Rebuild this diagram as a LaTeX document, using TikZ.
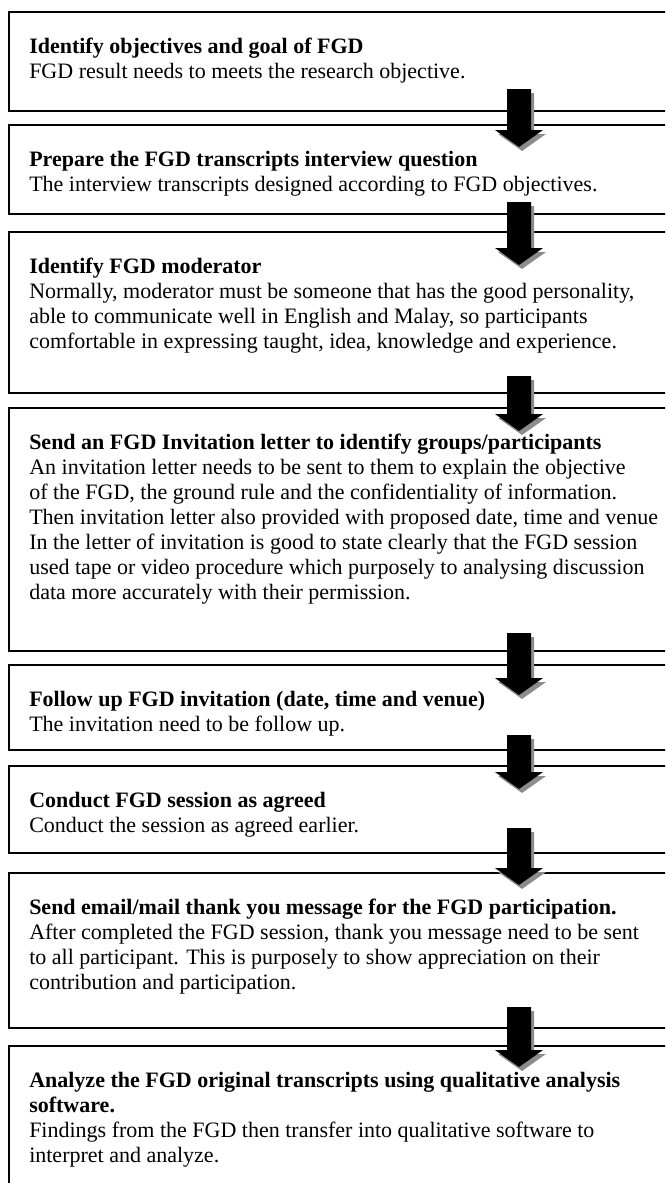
\documentclass[tikz,border=0pt]{standalone}
\usepackage{fontspec}
\setmainfont{Liberation Serif}
\usetikzlibrary{calc}

\definecolor{arrowshadow}{gray}{0.55}

\tikzset{
  stepbox/.style={draw, line width=0.9pt, anchor=north west, minimum width=525pt, inner sep=0pt, outer sep=0pt},
  steptext/.style={anchor=north west, align=left, inner sep=0pt, font=\fontsize{16.5}{18.75}\selectfont}
}

% box: name, top (px), height (px), text
\newcommand{\flowstep}[4]{%
  \node[stepbox, minimum height=#3*0.75pt] (#1) at (9,#2) {};
  \node[steptext] (#1-text) at ($(#1.north west)+(20,23.5)$) {\strut #4};
}
% block arrow: from, to, rise above gap, drop below gap
\newcommand{\flowarrow}[4]{%
  \foreach \dx/\dy/\c in {3/4/arrowshadow, 0/0/black}
    \fill[\c] ($(#1.south west)+(498+\dx,-#3+\dy)$) -- ($(#1.south west)+(522+\dx,-#3+\dy)$)
      -- ($(#2.north west)+(522+\dx,#4+\dy)$) -- ($(#2.north west)+(534+\dx,#4+\dy)$)
      -- ($(#2.north west)+(510+\dx,#4+17+\dy)$) -- ($(#2.north west)+(486+\dx,#4+\dy)$)
      -- ($(#2.north west)+(498+\dx,#4+\dy)$) -- cycle;
}

\begin{document}
\begin{tikzpicture}[x=0.75pt, y=-0.75pt]
\useasboundingbox (0,0) rectangle (665,1183);
\clip (0,0) rectangle (665,1183);

\flowstep{objective}{12}{99}{\textbf{Identify objectives and goal of FGD}\\
  FGD result needs to meets the research objective.}
\flowstep{question}{125}{89}{\textbf{Prepare the FGD transcripts interview question}\\
  The interview transcripts designed according to FGD objectives.}
\flowstep{moderator}{232}{161}{\textbf{Identify FGD moderator}\\
  Normally, moderator must be someone that has the good personality,\\
  able to communicate well in English and Malay, so participants\\
  comfortable in expressing taught, idea, knowledge and experience.}
\flowstep{invitation}{408}{243}{\textbf{Send an FGD Invitation letter to identify groups/participants}\\
  An invitation letter needs to be sent to them to explain the objective\\
  of the FGD, the ground rule and the confidentiality of information.\\
  Then invitation letter also provided with proposed date, time and venue\\
  In the letter of invitation is good to state clearly that the FGD session\\
  used tape or video procedure which purposely to analysing discussion\\
  data more accurately with their permission.}
\flowstep{followup}{665}{85}{\textbf{Follow up FGD invitation (date, time and venue)}\\
  The invitation need to be follow up.}
\flowstep{session}{766}{87}{\textbf{Conduct FGD session as agreed}\\
  Conduct the session as agreed earlier.}
\flowstep{thanks}{873}{155}{\textbf{Send email/mail thank you message for the FGD participation.}\\
  After completed the FGD session, thank you message need to be sent\\
  to all participant. This is purposely to show appreciation on their\\
  contribution and participation.}
\flowstep{analysis}{1046}{200}{\textbf{Analyze the FGD original transcripts using qualitative analysis}\\
  \textbf{software.}\\
  Findings from the FGD then transfer into qualitative software to\\
  interpret and analyze.}

\flowarrow{objective}{question}{22}{5}
\flowarrow{question}{moderator}{12}{16}
\flowarrow{moderator}{invitation}{17}{6}
\flowarrow{invitation}{followup}{18}{13}
\flowarrow{followup}{session}{15}{6}
\flowarrow{session}{thanks}{25}{-5}
\flowarrow{thanks}{analysis}{21}{4}
\end{tikzpicture}
\end{document}
